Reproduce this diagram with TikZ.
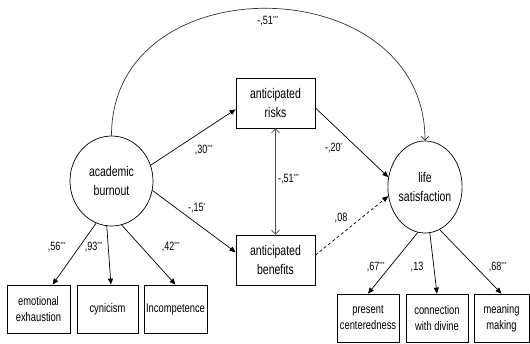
\documentclass[tikz,border=0pt]{standalone}
\usepackage{fontspec}
\setmainfont[FakeStretch=0.75]{Liberation Sans}
\usetikzlibrary{shapes.geometric,arrows.meta}
\newcommand{\sig}[1]{\textsuperscript{\fontsize{6}{6}\selectfont #1}}

\begin{document}
\begin{tikzpicture}[x=1pt, y=-1pt,
    latent/.style={draw, ellipse, inner sep=0pt, align=center, font=\fontsize{14}{19}\selectfont},
    midbox/.style={draw, rectangle, minimum width=79pt, minimum height=50pt, inner sep=0pt, align=center, font=\fontsize{14}{19}\selectfont},
    itembox/.style={draw, rectangle, minimum height=48pt, inner sep=0pt, align=center, font=\fontsize{12.5}{16}\selectfont},
    coef/.style={inner sep=0pt, font=\fontsize{12}{12}\selectfont},
    effect/.style={line width=0.7pt, -{Triangle[length=6pt,width=5pt]}},
    corr/.style={line width=0.7pt, {Straight Barb[length=4pt,width=8pt]}-{Straight Barb[length=4pt,width=8pt]}}
  ]
    \useasboundingbox (0,0) rectangle (530,343);

    % latent variables
    \node[latent, line width=0.7pt, minimum width=83pt, minimum height=90pt] (burnout) at (111.5,181) {academic\\burnout};
    \node[latent, line width=0.7pt, minimum width=74pt, minimum height=92pt] (life) at (425,187) {life\\satisfaction};

    % mediators
    \node[midbox, line width=0.7pt] (risks) at (275.5,103) {anticipated\\risks};
    \node[midbox, line width=0.7pt] (benefits) at (275.5,260) {anticipated\\benefits};

    % indicators
    \node[itembox, line width=0.7pt, minimum width=63pt] (exhaust) at (38.5,309) {emotional\\exhaustion};
    \node[itembox, line width=0.7pt, minimum width=61pt] (cynic) at (107.5,309) {cynicism};
    \node[itembox, line width=0.7pt, minimum width=63pt] (incomp) at (175.5,309) {Incompetence};
    \node[itembox, line width=0.7pt, minimum width=62pt] (present) at (368,318) {present\\centeredness};
    \node[itembox, line width=0.7pt, minimum width=62pt] (divine) at (437,318) {connection\\with divine};
    \node[itembox, line width=0.7pt, minimum width=55pt] (meaning) at (501.5,318) {meaning\\making};

    % paths
    \draw[line width=0.7pt, black!80, -{Straight Barb[length=4pt,width=8pt]}] (burnout.north) .. controls +(0,-173) and +(0,-173) .. (life.north);
    \draw[effect] (burnout.22) -- (risks.189);
    \draw[effect] (burnout.-13) -- (benefits.169);
    \draw[effect] (risks.-7) -- (life.165);
    \draw[effect, dash pattern=on 3pt off 2.5pt] (benefits.7) -- (life.194);
    \draw[corr, black!70] (risks) -- (benefits);

    \draw[effect] (burnout.250) -- (exhaust.60);
    \draw[effect] (burnout.264) -- (cynic.82);
    \draw[effect] (burnout.283) -- (incomp.north);
    \draw[effect] (life.261) -- (present.north);
    \draw[effect] (life.276) -- (divine.north);
    \draw[effect] (life.289) -- (meaning.north);

    % coefficients
    \node[coef] (ctop) at (268,21) {-,51\sig{***}};
    \node[coef] (crisk) at (204,150) {,30\sig{***}};
    \node[coef] (cben) at (197,208) {-,15\sig{*}};
    \node[coef] (crl) at (334,148) {-,20\sig{*}};
    \node[coef] (cbl) at (341,218) {,08};
    \node[coef, anchor=west] (crb) at (278,179) {-,51\sig{***}};
    \node[coef] (cee) at (57,247) {,56\sig{***}};
    \node[coef] (ccy) at (94,247) {,93\sig{***}};
    \node[coef] (cic) at (171,247) {,42\sig{***}};
    \node[coef] (cpc) at (376,267) {,67\sig{***}};
    \node[coef] (ccd) at (417,267) {,13};
    \node[coef] (cmm) at (498,267) {,68\sig{***}};
\end{tikzpicture}
\end{document}
